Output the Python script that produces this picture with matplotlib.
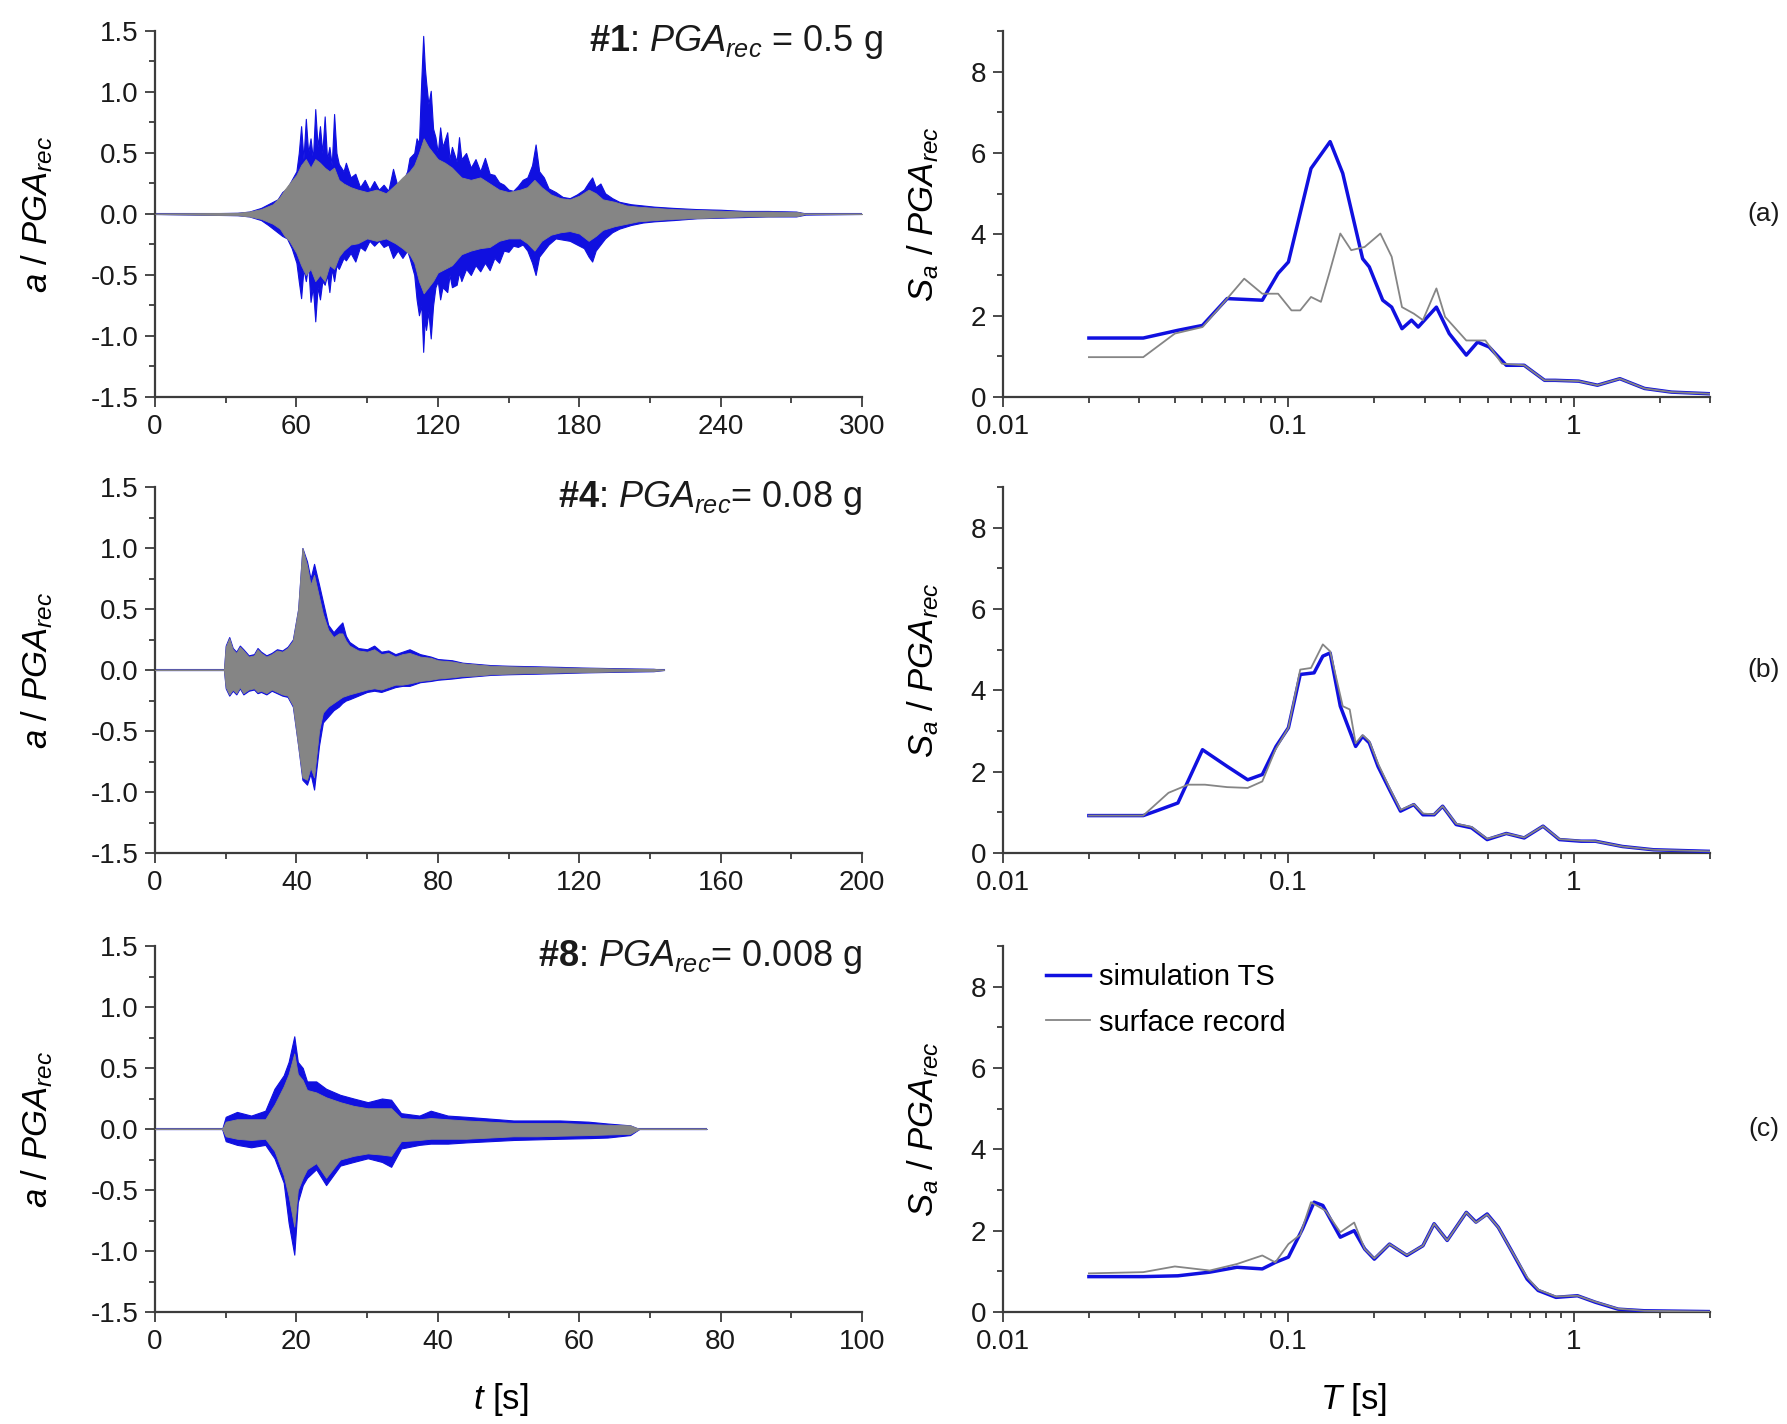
import numpy as np
import matplotlib
matplotlib.use("Agg")
import matplotlib.pyplot as plt
from matplotlib.ticker import MultipleLocator, FixedLocator, NullFormatter, LogLocator

plt.rcParams['font.family'] = ['Liberation Sans', 'DejaVu Sans']
plt.rcParams['mathtext.fontset'] = 'custom'
plt.rcParams['mathtext.rm'] = 'Liberation Sans'
plt.rcParams['mathtext.it'] = 'Liberation Sans:italic'
plt.rcParams['mathtext.bf'] = 'Liberation Sans:bold'
plt.rcParams['axes.unicode_minus'] = False

BLUE = '#1010e0'
GRAY = '#858585'
AXC = '#3c3c3c'
FS = 20      # tick labels
LFS = 25     # axis labels / tags

# ---- time histories: envelopes (a / PGA_rec) ----
# record #1 (0-300 s)
t1_sim = [0, 35, 40, 45, 48, 50, 52, 54, 56, 58,
          60, 61, 62, 63, 64, 65, 66, 67, 68, 69,
          70, 71, 72, 73, 74, 75, 76, 77, 78, 80,
          81, 83, 85, 87, 89, 91, 93, 95, 97, 99,
          101, 103, 105, 107, 108, 110, 111, 112, 113, 113.8,
          114.5, 115, 116, 117, 118, 119, 120, 121, 122, 124,
          125, 126, 128, 129, 130, 132, 134, 136, 138, 140,
          142, 144, 146, 148, 150, 152, 154, 156, 158, 160,
          161.5, 163, 165, 167, 170, 173, 176, 179, 182, 184,
          185.5, 187, 189, 191, 194, 197, 202, 207, 212, 220,
          230, 240, 250, 260, 272, 276, 300]
up1_sim = [0, 0.01, 0.02, 0.05, 0.08, 0.10, 0.12, 0.18, 0.21, 0.28,
           0.35, 0.50, 0.72, 0.45, 0.78, 0.50, 0.62, 0.45, 0.86, 0.55,
           0.72, 0.50, 0.80, 0.45, 0.55, 0.40, 0.82, 0.50, 0.41, 0.35,
           0.42, 0.30, 0.33, 0.22, 0.28, 0.20, 0.27, 0.20, 0.24, 0.19,
           0.37, 0.22, 0.26, 0.35, 0.46, 0.50, 0.62, 0.58, 1.10, 1.46,
           1.20, 1.09, 0.90, 1.01, 0.70, 0.63, 0.50, 0.71, 0.55, 0.67,
           0.45, 0.55, 0.43, 0.63, 0.45, 0.50, 0.38, 0.45, 0.35, 0.46,
           0.33, 0.32, 0.26, 0.24, 0.20, 0.19, 0.23, 0.28, 0.30, 0.40,
           0.57, 0.35, 0.30, 0.21, 0.18, 0.14, 0.13, 0.16, 0.20, 0.26,
           0.30, 0.22, 0.25, 0.17, 0.13, 0.10, 0.08, 0.07, 0.06, 0.05,
           0.04, 0.035, 0.025, 0.025, 0.02, 0.005, 0]
lo1_sim = [0, -0.01, -0.02, -0.05, -0.09, -0.12, -0.15, -0.18, -0.20, -0.28,
           -0.40, -0.55, -0.69, -0.45, -0.55, -0.42, -0.72, -0.60, -0.88, -0.60,
           -0.70, -0.55, -0.58, -0.50, -0.64, -0.45, -0.55, -0.42, -0.45, -0.36,
           -0.38, -0.32, -0.39, -0.27, -0.30, -0.22, -0.26, -0.22, -0.27, -0.25,
           -0.36, -0.30, -0.36, -0.30, -0.36, -0.50, -0.70, -0.83, -0.75, -1.13,
           -0.85, -0.95, -0.80, -1.02, -0.75, -0.60, -0.55, -0.70, -0.60, -0.64,
           -0.50, -0.60, -0.58, -0.48, -0.55, -0.45, -0.50, -0.42, -0.47, -0.40,
           -0.46, -0.36, -0.40, -0.30, -0.31, -0.26, -0.27, -0.25, -0.30, -0.40,
           -0.50, -0.35, -0.30, -0.25, -0.20, -0.21, -0.22, -0.25, -0.28, -0.35,
           -0.39, -0.30, -0.25, -0.20, -0.15, -0.12, -0.09, -0.07, -0.06, -0.05,
           -0.035, -0.03, -0.025, -0.02, -0.02, -0.005, 0]
t1_rec = [0, 35, 40, 45, 50, 53, 55, 57, 60, 62, 64, 66, 68, 70, 72, 74, 76, 78, 80, 83,
          86, 90, 94, 98, 102, 105, 108, 110, 112, 114, 116, 118, 120, 123, 126, 130, 134,
          138, 142, 146, 150, 155, 158, 161, 164, 168, 172, 176, 180, 184, 187, 190, 195,
          200, 205, 212, 220, 235, 250, 262, 273, 276, 300]
up1_rec = [0, 0.01, 0.02, 0.04, 0.08, 0.14, 0.20, 0.25, 0.32, 0.40, 0.45, 0.38, 0.45, 0.42,
           0.38, 0.35, 0.38, 0.28, 0.25, 0.22, 0.20, 0.18, 0.20, 0.17, 0.24, 0.30, 0.35, 0.40,
           0.50, 0.62, 0.55, 0.50, 0.45, 0.42, 0.38, 0.30, 0.28, 0.30, 0.25, 0.20, 0.18, 0.20,
           0.22, 0.28, 0.22, 0.16, 0.13, 0.12, 0.15, 0.20, 0.17, 0.12, 0.10, 0.07, 0.06, 0.05,
           0.04, 0.03, 0.02, 0.02, 0.015, 0, 0]
lo1_rec = [0, -0.01, -0.02, -0.04, -0.08, -0.12, -0.18, -0.22, -0.32, -0.42, -0.50, -0.45,
           -0.55, -0.50, -0.55, -0.42, -0.45, -0.35, -0.30, -0.25, -0.24, -0.20, -0.22, -0.20,
           -0.24, -0.28, -0.33, -0.40, -0.55, -0.65, -0.60, -0.55, -0.48, -0.45, -0.42, -0.33,
           -0.30, -0.28, -0.27, -0.22, -0.20, -0.20, -0.24, -0.30, -0.22, -0.17, -0.15, -0.14,
           -0.16, -0.22, -0.18, -0.13, -0.10, -0.08, -0.06, -0.05, -0.04, -0.03, -0.02, -0.02,
           -0.015, 0, 0]

# record #4 (0-200 s)
t4 = [0, 19.5, 20, 21, 22, 23, 24, 25, 26.5, 28,
      29, 30, 31.5, 33, 34.5, 36, 37.5, 39, 40.5, 41.7,
      43, 44, 45, 46.4, 47.5, 49, 50.5, 52, 53, 54,
      55, 57.5, 60, 62, 64, 66, 68, 70, 72, 75,
      78, 80, 84, 87, 91, 95, 100, 108, 115, 121,
      130, 141, 144]
up4_sim = [0, 0, 0.20, 0.27, 0.18, 0.15, 0.20, 0.17, 0.12, 0.13,
           0.18, 0.15, 0.12, 0.14, 0.17, 0.16, 0.19, 0.25, 0.50, 1.00,
           0.89, 0.75, 0.87, 0.70, 0.56, 0.37, 0.31, 0.36, 0.39, 0.28,
           0.23, 0.18, 0.17, 0.20, 0.15, 0.16, 0.13, 0.15, 0.17, 0.13,
           0.11, 0.09, 0.08, 0.06, 0.05, 0.04, 0.035, 0.03, 0.025, 0.02,
           0.015, 0.01, 0]
lo4_sim = [0, 0, -0.15, -0.21, -0.17, -0.20, -0.15, -0.20, -0.17, -0.16,
           -0.19, -0.18, -0.20, -0.17, -0.19, -0.21, -0.22, -0.30, -0.62, -0.90,
           -0.94, -0.85, -0.98, -0.62, -0.43, -0.38, -0.33, -0.30, -0.27, -0.25,
           -0.24, -0.21, -0.18, -0.17, -0.18, -0.16, -0.14, -0.13, -0.13, -0.10,
           -0.09, -0.08, -0.07, -0.06, -0.05, -0.04, -0.035, -0.03, -0.025, -0.02,
           -0.015, -0.01, 0]
up4_rec = [0, 0, 0.19, 0.26, 0.17, 0.14, 0.19, 0.16, 0.11, 0.12,
           0.17, 0.14, 0.11, 0.13, 0.16, 0.15, 0.18, 0.24, 0.50, 1.00,
           0.86, 0.70, 0.78, 0.60, 0.46, 0.33, 0.27, 0.30, 0.30, 0.24,
           0.20, 0.16, 0.15, 0.17, 0.13, 0.14, 0.11, 0.13, 0.14, 0.11,
           0.10, 0.08, 0.07, 0.055, 0.045, 0.035, 0.03, 0.025, 0.02, 0.018,
           0.012, 0.008, 0]
lo4_rec = [0, 0, -0.14, -0.20, -0.16, -0.19, -0.14, -0.19, -0.16, -0.15,
           -0.18, -0.17, -0.19, -0.16, -0.18, -0.20, -0.21, -0.29, -0.62, -0.88,
           -0.90, -0.80, -0.88, -0.50, -0.35, -0.30, -0.27, -0.24, -0.22, -0.21,
           -0.20, -0.18, -0.16, -0.15, -0.16, -0.14, -0.12, -0.12, -0.11, -0.09,
           -0.08, -0.07, -0.06, -0.05, -0.045, -0.035, -0.03, -0.025, -0.02, -0.018,
           -0.012, -0.008, 0]

# record #8 (0-100 s)
t8 = [0, 9.5, 10, 11.6, 13.6, 15.6, 16.9, 18.2, 18.9, 19.7, 20.2, 20.9, 21.5, 22.8, 24.2, 26.2,
      28.1, 30.1, 32.1, 33.4, 34.8, 37.4, 39, 41.4, 44, 47.4, 50.7, 54, 57.3, 61.3, 64, 67.2,
      68.5, 78]
up8_sim = [0, 0, 0.10, 0.14, 0.11, 0.15, 0.33, 0.44, 0.55, 0.76, 0.55, 0.50, 0.39, 0.39, 0.33,
           0.28, 0.25, 0.22, 0.25, 0.24, 0.13, 0.11, 0.15, 0.11, 0.10, 0.085, 0.07, 0.07, 0.07,
           0.06, 0.045, 0.03, 0, 0]
lo8_sim = [0, 0, -0.10, -0.13, -0.15, -0.13, -0.24, -0.44, -0.77, -1.03, -0.60, -0.46, -0.40,
           -0.33, -0.46, -0.30, -0.27, -0.24, -0.27, -0.31, -0.16, -0.13, -0.12, -0.12, -0.11,
           -0.10, -0.09, -0.085, -0.08, -0.075, -0.07, -0.05, 0, 0]
up8_rec = [0, 0, 0.06, 0.08, 0.08, 0.08, 0.20, 0.35, 0.45, 0.62, 0.45, 0.40, 0.32, 0.30, 0.26,
           0.22, 0.19, 0.17, 0.17, 0.17, 0.09, 0.08, 0.09, 0.08, 0.07, 0.06, 0.05, 0.05, 0.05,
           0.04, 0.035, 0.03, 0, 0]
lo8_rec = [0, 0, -0.06, -0.08, -0.09, -0.08, -0.18, -0.38, -0.55, -0.80, -0.50, -0.40, -0.33,
           -0.28, -0.40, -0.25, -0.22, -0.20, -0.21, -0.22, -0.10, -0.09, -0.08, -0.08, -0.08,
           -0.07, -0.06, -0.06, -0.055, -0.05, -0.045, -0.04, 0, 0]

# ---- response spectra (Sa / PGA_rec) ----
T1_sim = [0.02, 0.031, 0.041, 0.05, 0.061, 0.081, 0.092, 0.1, 0.12, 0.14, 0.155, 0.182, 0.192,
          0.214, 0.23, 0.25, 0.27, 0.285, 0.33, 0.366, 0.42, 0.46, 0.505, 0.58, 0.67, 0.79, 0.86,
          1.04, 1.21, 1.45, 1.77, 2.2, 3.0]
Sa1_sim = [1.45, 1.45, 1.64, 1.76, 2.42, 2.38, 3.04, 3.32, 5.62, 6.28, 5.50, 3.40, 3.20, 2.38,
           2.21, 1.68, 1.89, 1.72, 2.21, 1.56, 1.03, 1.35, 1.23, 0.78, 0.78, 0.41, 0.41, 0.39,
           0.29, 0.45, 0.21, 0.12, 0.08]
T1_rec = [0.02, 0.031, 0.04, 0.05, 0.059, 0.07, 0.081, 0.092, 0.1025, 0.11, 0.12, 0.13, 0.139,
          0.152, 0.166, 0.185, 0.21, 0.23, 0.25, 0.275, 0.296, 0.33, 0.354, 0.42, 0.46, 0.49,
          0.56, 0.67, 0.79, 0.86, 1.04, 1.21, 1.45, 1.77, 2.2, 3.0]
Sa1_rec = [0.98, 0.98, 1.56, 1.72, 2.30, 2.91, 2.54, 2.54, 2.13, 2.13, 2.46, 2.34, 3.04, 4.02,
           3.61, 3.69, 4.02, 3.45, 2.21, 2.05, 1.89, 2.67, 1.97, 1.39, 1.39, 1.39, 0.82, 0.78,
           0.41, 0.41, 0.39, 0.29, 0.45, 0.21, 0.12, 0.08]

T4_sim = [0.02, 0.031, 0.0343, 0.041, 0.05, 0.061, 0.072, 0.081, 0.0905, 0.1, 0.11, 0.123,
          0.132, 0.14, 0.152, 0.172, 0.182, 0.192, 0.206, 0.226, 0.247, 0.275, 0.296, 0.324,
          0.347, 0.387, 0.438, 0.497, 0.58, 0.67, 0.78, 0.89, 1.06, 1.19, 1.48, 1.9, 3.0]
Sa4_sim = [0.92, 0.92, 1.03, 1.23, 2.54, 2.13, 1.80, 1.93, 2.62, 3.08, 4.39, 4.43, 4.84, 4.92,
           3.61, 2.62, 2.87, 2.71, 2.13, 1.56, 1.03, 1.19, 0.94, 0.94, 1.15, 0.70, 0.62, 0.33,
           0.48, 0.37, 0.66, 0.33, 0.29, 0.29, 0.16, 0.08, 0.04]
T4_rec = [0.02, 0.031, 0.038, 0.0445, 0.051, 0.061, 0.072, 0.081, 0.09, 0.1, 0.11, 0.12, 0.132,
          0.14, 0.155, 0.164, 0.172, 0.182, 0.192, 0.206, 0.226, 0.247, 0.275, 0.296, 0.324,
          0.347, 0.387, 0.438, 0.497, 0.58, 0.67, 0.78, 0.89, 1.06, 1.19, 1.48, 1.9, 3.0]
Sa4_rec = [0.92, 0.92, 1.48, 1.68, 1.68, 1.62, 1.60, 1.76, 2.54, 3.08, 4.51, 4.55, 5.13, 4.96,
           3.61, 3.53, 2.70, 2.90, 2.75, 2.20, 1.60, 1.06, 1.20, 0.97, 0.95, 1.15, 0.72, 0.64,
           0.35, 0.48, 0.38, 0.66, 0.34, 0.30, 0.29, 0.16, 0.08, 0.04]

T8_sim = [0.02, 0.031, 0.041, 0.053, 0.066, 0.081, 0.09, 0.1, 0.112, 0.123, 0.132, 0.152, 0.17,
          0.185, 0.2, 0.226, 0.26, 0.296, 0.324, 0.36, 0.42, 0.454, 0.497, 0.544, 0.6, 0.686,
          0.75, 0.866, 1.03, 1.19, 1.43, 1.77, 3.0]
Sa8_sim = [0.87, 0.87, 0.89, 0.98, 1.10, 1.06, 1.22, 1.35, 2.04, 2.70, 2.62, 1.84, 2.00, 1.55,
           1.30, 1.67, 1.39, 1.63, 2.17, 1.76, 2.45, 2.21, 2.41, 2.08, 1.55, 0.81, 0.53, 0.36,
           0.40, 0.24, 0.07, 0.03, 0.01]
T8_rec = [0.02, 0.031, 0.04, 0.053, 0.066, 0.081, 0.09, 0.1, 0.11, 0.12, 0.135, 0.152, 0.17,
          0.185, 0.2, 0.226, 0.26, 0.296, 0.324, 0.36, 0.42, 0.454, 0.497, 0.544, 0.6, 0.686,
          0.75, 0.866, 1.03, 1.19, 1.43, 1.77, 3.0]
Sa8_rec = [0.95, 0.98, 1.12, 1.02, 1.18, 1.39, 1.22, 1.67, 1.90, 2.70, 2.49, 1.96, 2.20, 1.55,
           1.32, 1.67, 1.40, 1.63, 2.17, 1.76, 2.45, 2.20, 2.40, 2.08, 1.55, 0.85, 0.55, 0.38,
           0.40, 0.25, 0.08, 0.03, 0.01]

rows = [
    dict(t_sim=t1_sim, up_sim=up1_sim, lo_sim=lo1_sim, t_rec=t1_rec, up_rec=up1_rec, lo_rec=lo1_rec,
         tmax=300, tmaj=60, tmin=30, tag=r'$\mathbf{\#1}$: $PGA_{rec}$ = 0.5 g', tagx=1.03,
         T_sim=T1_sim, Sa_sim=Sa1_sim, T_rec=T1_rec, Sa_rec=Sa1_rec, panel='(a)'),
    dict(t_sim=t4, up_sim=up4_sim, lo_sim=lo4_sim, t_rec=t4, up_rec=up4_rec, lo_rec=lo4_rec,
         tmax=200, tmaj=40, tmin=20, tag=r'$\mathbf{\#4}$: $PGA_{rec}$= 0.08 g', tagx=1.0,
         T_sim=T4_sim, Sa_sim=Sa4_sim, T_rec=T4_rec, Sa_rec=Sa4_rec, panel='(b)'),
    dict(t_sim=t8, up_sim=up8_sim, lo_sim=lo8_sim, t_rec=t8, up_rec=up8_rec, lo_rec=lo8_rec,
         tmax=100, tmaj=20, tmin=10, tag=r'$\mathbf{\#8}$: $PGA_{rec}$= 0.008 g', tagx=1.0,
         T_sim=T8_sim, Sa_sim=Sa8_sim, T_rec=T8_rec, Sa_rec=Sa8_rec, panel='(c)'),
]

W, H = 1787, 1424
fig = plt.figure(figsize=(W / 100, H / 100), dpi=100)

row_top = [31, 487, 946]
ax_h = 366
left_x0, right_x0, ax_w = 155, 1003, 707


def style(ax):
    for s in ['top', 'right']:
        ax.spines[s].set_visible(False)
    for s in ['left', 'bottom']:
        ax.spines[s].set_color(AXC)
        ax.spines[s].set_linewidth(1.6)
    ax.tick_params(which='both', direction='out', colors=AXC, labelcolor='#1a1a1a',
                   labelsize=FS, width=1.3)
    ax.tick_params(which='major', length=7, pad=5)
    ax.tick_params(which='minor', length=4)


for i, r in enumerate(rows):
    top = row_top[i]
    yb = 1 - (top + ax_h) / H
    # time history
    ax = fig.add_axes([left_x0 / W, yb, ax_w / W, ax_h / H])
    ax.fill_between(r['t_sim'], r['lo_sim'], r['up_sim'], color=BLUE, lw=0.8, zorder=2)
    ax.plot([0, r['t_sim'][-1]], [0, 0], color='#5a5aa8', lw=1.5, zorder=2)
    ax.fill_between(r['t_rec'], r['lo_rec'], r['up_rec'], color=GRAY, lw=0.6, zorder=3)
    ax.set_xlim(0, r['tmax'])
    ax.set_ylim(-1.5, 1.5)
    ax.xaxis.set_major_locator(MultipleLocator(r['tmaj']))
    ax.xaxis.set_minor_locator(MultipleLocator(r['tmin']))
    ax.yaxis.set_major_locator(MultipleLocator(0.5))
    ax.yaxis.set_minor_locator(MultipleLocator(0.25))
    ax.yaxis.set_major_formatter(plt.FormatStrFormatter('%.1f'))
    style(ax)
    ax.set_ylabel(r'$a$ / $PGA_{rec}$', fontsize=LFS)
    ax.yaxis.set_label_coords(-0.142, 0.5)
    ax.text(r['tagx'], 0.945, r['tag'], transform=ax.transAxes, ha='right', va='baseline',
            fontsize=LFS + 1, color='#1a1a1a')

    # spectrum
    ax2 = fig.add_axes([right_x0 / W, yb, ax_w / W, ax_h / H])
    ax2.plot(r['T_sim'], r['Sa_sim'], color=BLUE, lw=2.5, label='simulation TS', zorder=3)
    ax2.plot(r['T_rec'], r['Sa_rec'], color=GRAY, lw=1.3, label='surface record', zorder=4)
    ax2.set_xscale('log')
    ax2.set_xlim(0.01, 3)
    ax2.set_ylim(0, 9)
    ax2.xaxis.set_major_locator(FixedLocator([0.01, 0.1, 1]))
    ax2.set_xticklabels(['0.01', '0.1', '1'])
    ax2.xaxis.set_minor_locator(LogLocator(base=10, subs=np.arange(2, 10)))
    ax2.xaxis.set_minor_formatter(NullFormatter())
    ax2.yaxis.set_major_locator(MultipleLocator(2))
    ax2.yaxis.set_minor_locator(MultipleLocator(1))
    style(ax2)
    ax2.set_ylabel(r'$S_a$ / $PGA_{rec}$', fontsize=LFS)
    ax2.yaxis.set_label_coords(-0.088, 0.5)
    fig.text(1764 / W, 1 - (top + ax_h / 2) / H, r['panel'], ha='center', va='center',
             fontsize=FS - 1, color='#1a1a1a')
    if i == 2:
        ax2.legend(loc='upper left', bbox_to_anchor=(0.045, 0.985), frameon=False, fontsize=FS + 1,
                   handlelength=1.5, handletextpad=0.3, labelspacing=0.6, borderaxespad=0)

fig.text(501 / W, 1 - 1400 / H, r'$t$ [s]', ha='center', va='center', fontsize=LFS)
fig.text(1354 / W, 1 - 1400 / H, r'$T$ [s]', ha='center', va='center', fontsize=LFS)

fig.savefig('out.png', dpi=100, facecolor='white')
